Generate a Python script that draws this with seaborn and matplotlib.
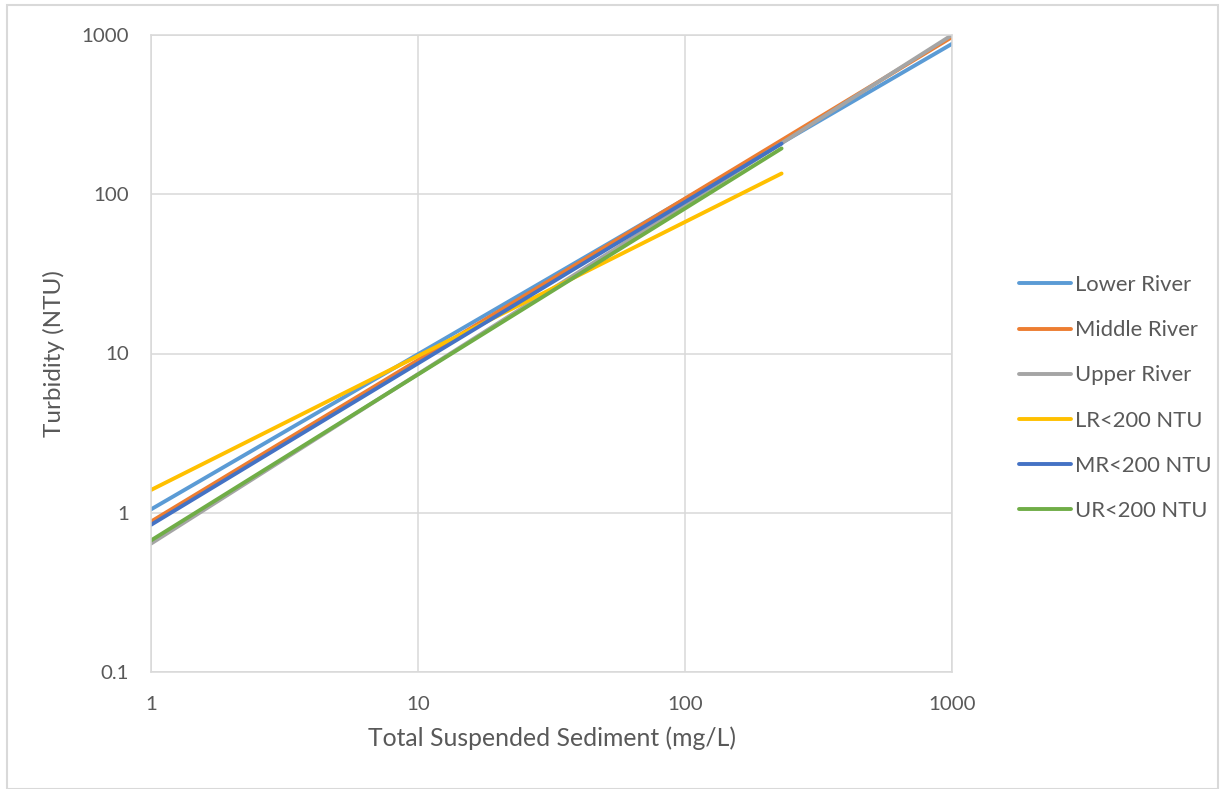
import numpy as np
import pandas as pd
import matplotlib
matplotlib.use("Agg")
import matplotlib.pyplot as plt
import seaborn as sns
from matplotlib.ticker import FixedLocator, FixedFormatter, NullLocator
from matplotlib.patches import Rectangle

# Data: power-law fit lines (endpoints)
series_names = ["Lower River", "Middle River", "Upper River",
                "LR<200 NTU", "MR<200 NTU", "UR<200 NTU"]
lower_x = [1, 1000]
lower_y = [1.05, 880]
middle_x = [1, 1000]
middle_y = [0.88, 970]
upper_x = [1, 1000]
upper_y = [0.64, 1000]
lr_x = [1, 230]
lr_y = [1.39, 135]
mr_x = [1, 230]
mr_y = [0.84, 208]
ur_x = [1, 230]
ur_y = [0.67, 194]
tick_values = [0.1, 1, 10, 100, 1000]
tick_labels = ["0.1", "1", "10", "100", "1000"]
colors = ["#5B9BD5", "#ED7D31", "#A5A5A5", "#FFC000", "#4472C4", "#70AD47"]

xs = [lower_x, middle_x, upper_x, lr_x, mr_x, ur_x]
ys = [lower_y, middle_y, upper_y, lr_y, mr_y, ur_y]
df = pd.concat([pd.DataFrame({"TSS": x, "Turbidity": y, "Series": n})
                for n, x, y in zip(series_names, xs, ys)], ignore_index=True)

sns.set_theme(style="white")
plt.rcParams["font.family"] = ["Lato", "DejaVu Sans"]

fig = plt.figure(figsize=(12.25, 7.89), dpi=100)
ax = fig.add_axes([151/1225, 1-672/789, (952-151)/1225, (672-35)/789])

sns.lineplot(data=df, x="TSS", y="Turbidity", hue="Series",
             hue_order=series_names, palette=colors, linewidth=2.8,
             sort=False, estimator=None, ax=ax)

ax.set_xscale("log")
ax.set_yscale("log")
ax.set_xlim(1, 1000)
ax.set_ylim(0.1, 1000)

grid_c = "#D9D9D9"
for a in (ax.xaxis, ax.yaxis):
    a.set_major_locator(FixedLocator(tick_values if a is ax.yaxis else tick_values[1:]))
    a.set_major_formatter(FixedFormatter(tick_labels if a is ax.yaxis else tick_labels[1:]))
    a.set_minor_locator(NullLocator())
ax.grid(True, which="major", color=grid_c, linewidth=1.1)
ax.set_axisbelow(True)
for s in ax.spines.values():
    s.set_color(grid_c)
    s.set_linewidth(1.1)
ax.tick_params(axis="both", length=0, labelsize=14.7, labelcolor="#595959")
ax.tick_params(axis="x", pad=17)
ax.tick_params(axis="y", pad=16)

ax.set_xlabel("Total Suspended Sediment (mg/L)", fontsize=17.8, color="#595959", labelpad=10)
ax.set_ylabel("Turbidity (NTU)", fontsize=17.5, color="#595959", labelpad=12)

leg = ax.legend(loc="center left", bbox_to_anchor=(1.0595, 0.43), frameon=False,
                fontsize=15.8, handlelength=2.37, handletextpad=0.15,
                labelspacing=1.15)
for t in leg.get_texts():
    t.set_color("#595959")
for h in leg.get_lines():
    h.set_linewidth(2.8)

fig.patches.append(Rectangle((7/1225, 0), 1-14/1225, 1-5/789, transform=fig.transFigure,
                             fill=False, edgecolor="#D9D9D9", linewidth=1.5))

fig.savefig("out.png", dpi=100)
